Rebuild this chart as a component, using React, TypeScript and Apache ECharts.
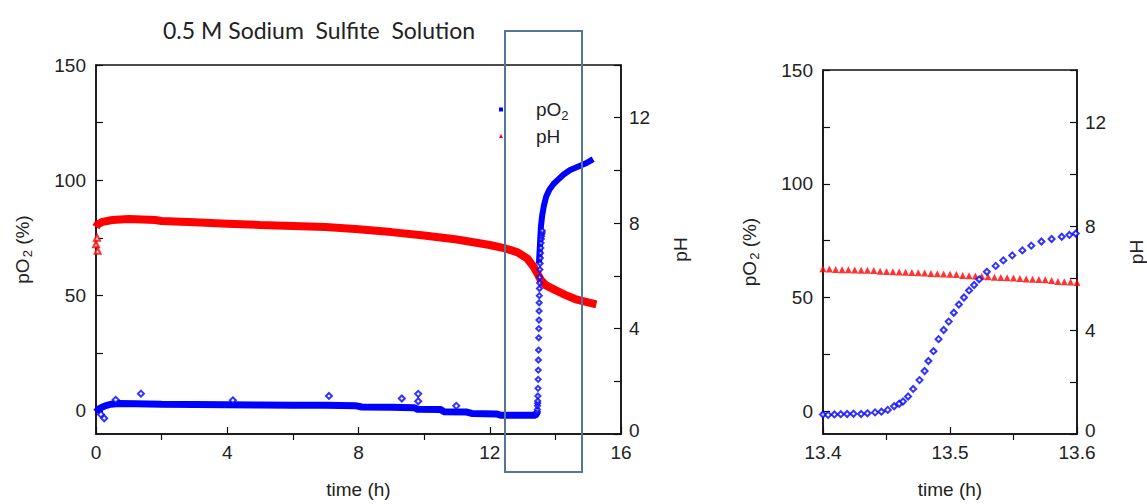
import React, { useEffect, useRef } from "react";
import * as echarts from "echarts";

// ---------- data ----------
const titleText = "0.5 M Sodium  Sulfite  Solution";

const leftTimeTicks = [0, 4, 8, 12, 16];
const leftTimeMinor = [2, 6, 10, 14];
const zoomTimeTicks = [13.4, 13.5, 13.6];
const zoomTimeMinor = [13.45, 13.55];
const po2Labels = [0, 50, 100, 150];
const po2Ticks = [0, 25, 50, 75, 100, 125, 150];
const phLabels = [0, 4, 8, 12];
const phTicks = [0, 2, 4, 6, 8, 10, 12, 14];

// pO2 (%) vs time (h), whole run — baseline before the jump
const po2Baseline: [number, number][] = [
  [0.0, -0.5], [0.08, 0.8], [0.18, 1.6], [0.3, 2.3], [0.45, 2.9], [0.7, 3.2],
  [1.2, 3.1], [2.0, 2.9], [3.0, 2.8], [4.0, 2.7], [5.0, 2.6], [6.0, 2.5],
  [7.0, 2.5], [7.9, 2.3], [8.1, 1.7], [9.0, 1.6], [9.7, 1.4], [9.8, 0.7],
  [10.5, 0.6], [10.6, -0.3], [11.3, -0.5], [11.45, -1.1], [12.2, -1.3],
  [12.35, -1.9], [13.38, -1.9], [13.44, -1.0],
];
// scattered single readings
const po2Outliers: [number, number][] = [
  [0.15, -1.5], [0.25, -3.2], [0.6, 4.8], [1.37, 7.5], [4.17, 4.6],
  [7.1, 6.5], [9.32, 5.4], [9.82, 7.4], [9.82, 4.2], [10.98, 2.2],
];
// the jump, 13.4 – 13.6 h
const po2Rise: [number, number][] = [
  [13.4, -1.4], [13.404, -1.6], [13.409, -1.4], [13.414, -1.3], [13.419, -1.2],
  [13.424, -1.1], [13.43, -1.2], [13.435, -0.9], [13.441, -0.5], [13.446, -0.2],
  [13.451, 0.6], [13.456, 2.2], [13.46, 3.3], [13.463, 4.3], [13.467, 6.5],
  [13.471, 9.8], [13.476, 13.7], [13.48, 17.7], [13.483, 22.1], [13.487, 26.4],
  [13.491, 31.7], [13.495, 35.7], [13.499, 39.4], [13.503, 43.3], [13.507, 46.9],
  [13.511, 50.0], [13.515, 53.1], [13.519, 55.5], [13.523, 58.0], [13.529, 61.3],
  [13.536, 63.9], [13.542, 66.3], [13.549, 68.5], [13.557, 70.7], [13.564, 72.8],
  [13.572, 74.6], [13.58, 75.7], [13.588, 76.7], [13.594, 77.5], [13.599, 78.1],
];
// after the jump (whole-run view)
const po2Recovery: [number, number][] = [
  [13.5, 64], [13.53, 72], [13.56, 80], [13.6, 85], [13.65, 89], [13.72, 93],
  [13.82, 96], [13.95, 98.5], [14.1, 100.5], [14.25, 102.5], [14.45, 104.5],
  [14.7, 106], [14.95, 107.5], [15.15, 109.2],
];

// pH vs time (h), whole run
const phMain: [number, number][] = [
  [0.0, 7.85], [0.05, 7.95], [0.2, 8.05], [0.5, 8.12], [1.0, 8.16], [1.8, 8.12],
  [2.0, 8.08], [3.0, 8.03], [4.0, 7.98], [5.0, 7.93], [6.0, 7.89], [7.0, 7.85],
  [8.0, 7.77], [9.0, 7.66], [10.0, 7.53], [11.0, 7.38], [12.0, 7.17], [12.5, 7.03],
  [12.85, 6.89], [13.15, 6.65], [13.35, 6.32], [13.45, 6.1], [13.55, 5.85],
  [13.7, 5.65], [14.0, 5.46], [14.3, 5.28], [14.6, 5.12], [14.9, 5.02], [15.25, 4.92],
];
const phOutliers: [number, number][] = [[0.0, 7.2], [0.03, 7.45], [0.05, 6.95]];
// pH, 13.4 – 13.6 h
const phZoom: [number, number][] = [
  [13.4, 6.36], [13.405, 6.35], [13.41, 6.33], [13.415, 6.32], [13.42, 6.32],
  [13.425, 6.31], [13.43, 6.3], [13.435, 6.3], [13.44, 6.29], [13.445, 6.26],
  [13.45, 6.25], [13.455, 6.24], [13.46, 6.23], [13.465, 6.22], [13.47, 6.21],
  [13.475, 6.2], [13.48, 6.19], [13.485, 6.17], [13.49, 6.16], [13.495, 6.15],
  [13.5, 6.14], [13.505, 6.13], [13.51, 6.1], [13.515, 6.09], [13.52, 6.08],
  [13.525, 6.07], [13.53, 6.05], [13.535, 6.03], [13.54, 6.02], [13.545, 6.01],
  [13.55, 6.0], [13.555, 5.98], [13.56, 5.96], [13.565, 5.95], [13.57, 5.94],
  [13.575, 5.93], [13.58, 5.9], [13.585, 5.87], [13.59, 5.86], [13.595, 5.85],
  [13.6, 5.83],
];

// ---------- styling ----------
const BLUE = "#0000ff";
const RED = "#ff0000";
const INK = "#222222";
const FRAME = "#111111";
const FONT = "'Liberation Sans', Arial, sans-serif";
const FS = 19;

const nameRich = {
  a: { fontSize: FS, fontFamily: FONT, color: INK, lineHeight: 24, verticalAlign: "middle" },
  s: { fontSize: 13, fontFamily: FONT, color: INK, lineHeight: 24, verticalAlign: "bottom", padding: [0, 0, 0, 1] },
};
const po2Name = "{a|pO}{s|2}{a| (%)}";

function mainX(grid: number, min: number, max: number, labels: number[], fmt?: (v: number) => string) {
  return {
    gridIndex: grid, type: "value", min, max, position: "bottom",
    axisLine: { show: true, onZero: false, lineStyle: { color: FRAME, width: 1.5 } },
    axisTick: { show: true, inside: true, length: 7, customValues: labels, lineStyle: { color: FRAME, width: 1.2 } },
    axisLabel: { customValues: labels, fontSize: FS, fontFamily: FONT, color: INK, margin: 10, lineHeight: 16, formatter: fmt },
    splitLine: { show: false },
    name: "time (h)", nameLocation: "middle", nameGap: 46,
    nameTextStyle: { fontSize: FS, fontFamily: FONT, color: INK },
  };
}
function minorX(grid: number, min: number, max: number, ticks: number[]) {
  return {
    gridIndex: grid, type: "value", min, max, position: "bottom",
    axisLine: { show: false, onZero: false },
    axisTick: { show: true, inside: false, length: 6, customValues: ticks, lineStyle: { color: FRAME, width: 1.2 } },
    axisLabel: { show: false },
    splitLine: { show: false },
  };
}
function po2Y(grid: number) {
  return {
    gridIndex: grid, type: "value", min: -10, max: 150, position: "left",
    axisLine: { show: true, onZero: false, lineStyle: { color: FRAME, width: 1.5 } },
    axisTick: { show: true, inside: true, length: 7, customValues: po2Ticks, lineStyle: { color: FRAME, width: 1.2 } },
    axisLabel: { customValues: po2Labels, fontSize: FS, fontFamily: FONT, color: INK, margin: 10, lineHeight: 14 },
    splitLine: { show: false },
    name: po2Name, nameLocation: "middle", nameGap: 62, nameRotate: 90,
    nameTextStyle: { rich: nameRich },
  };
}
function phY(grid: number) {
  return {
    gridIndex: grid, type: "value", min: 0, max: 14, position: "right",
    axisLine: { show: true, onZero: false, lineStyle: { color: FRAME, width: 1.5 } },
    axisTick: { show: true, inside: true, length: 7, customValues: phTicks, lineStyle: { color: FRAME, width: 1.2 } },
    axisLabel: {
      customValues: phLabels, fontSize: FS, fontFamily: FONT, color: INK, margin: 8, lineHeight: 14,
      // the bottom "0" sits just above the time labels
      formatter: (v: number) => (v === 0 ? "{z|0}" : String(v)),
      rich: { z: { fontSize: FS, fontFamily: FONT, color: INK, lineHeight: 14, padding: [0, 0, 8, 0] } },
    },
    splitLine: { show: false },
    name: "pH", nameLocation: "middle", nameGap: 50, nameRotate: 90,
    nameTextStyle: { fontSize: FS, fontFamily: FONT, color: INK },
  };
}

export default function App() {
  const ref = useRef<HTMLDivElement>(null);
  useEffect(() => {
    if (!ref.current) return;
    const chart = echarts.init(ref.current, undefined, { renderer: "svg" });
    const option: any = {
      animation: false,
      backgroundColor: "#ffffff",
      title: {
        text: titleText, left: 158, top: 13,
        textStyle: { fontFamily: "Lato, 'Open Sans', sans-serif", fontSize: 23, fontWeight: "normal", color: INK },
      },
      legend: {
        orient: "vertical", left: 494, top: 95, itemWidth: 4, itemHeight: 4, itemGap: 5,
        selectedMode: false,
        data: [{ name: "pO2", icon: "rect" }, { name: "pH", icon: "triangle" }],
        formatter: (n: string) => (n === "pO2" ? "{g|}{a|pO}{s|2}" : "{g|}{a|pH}"),
        textStyle: {
          rich: {
            g: { width: 28 },
            a: { fontSize: FS, fontFamily: FONT, color: INK, lineHeight: 24, verticalAlign: "middle" },
            s: { fontSize: 13, fontFamily: FONT, color: INK, lineHeight: 24, verticalAlign: "bottom" },
          },
        },
      },
      grid: [
        { left: 96, top: 65, width: 525, height: 372, show: true, borderColor: FRAME, borderWidth: 1.5, backgroundColor: "transparent" },
        { left: 823, top: 70, width: 254, height: 367, show: true, borderColor: FRAME, borderWidth: 1.5, backgroundColor: "transparent" },
      ],
      xAxis: [
        mainX(0, 0, 16, leftTimeTicks),
        minorX(0, 0, 16, leftTimeMinor),
        mainX(1, 13.4, 13.6, zoomTimeTicks, (v: number) => v.toFixed(1)),
        minorX(1, 13.4, 13.6, zoomTimeMinor),
      ],
      yAxis: [po2Y(0), phY(0), po2Y(1), phY(1)],
      graphic: [
        {
          type: "rect", z: 100, silent: true,
          shape: { x: 505, y: 31, width: 77, height: 441 },
          style: { fill: "none", stroke: "#56759a", lineWidth: 2 },
        },
      ],
      series: [
        {
          name: "pO2", type: "line", xAxisIndex: 0, yAxisIndex: 0, data: po2Baseline,
          showSymbol: false, lineStyle: { color: BLUE, width: 7 }, itemStyle: { color: BLUE }, z: 3,
        },
        {
          name: "pO2", type: "scatter", xAxisIndex: 0, yAxisIndex: 0, data: po2Outliers,
          symbol: "emptyDiamond", symbolSize: 6, itemStyle: { color: BLUE, borderWidth: 1.5 }, z: 3,
        },
        {
          name: "pO2", type: "scatter", xAxisIndex: 0, yAxisIndex: 0, data: po2Rise,
          symbol: "emptyDiamond", symbolSize: 5, itemStyle: { color: BLUE, borderWidth: 1.5 }, z: 3,
        },
        {
          name: "pO2", type: "line", xAxisIndex: 0, yAxisIndex: 0, data: po2Recovery,
          showSymbol: false, lineStyle: { color: BLUE, width: 6 }, itemStyle: { color: BLUE }, z: 3,
        },
        {
          name: "pH", type: "line", xAxisIndex: 0, yAxisIndex: 1, data: phMain,
          showSymbol: false, lineStyle: { color: RED, width: 8 }, itemStyle: { color: RED }, z: 2,
        },
        {
          name: "pH", type: "scatter", xAxisIndex: 0, yAxisIndex: 1, data: phOutliers,
          symbol: "emptyTriangle", symbolSize: 6, itemStyle: { color: RED, borderWidth: 1.5 }, z: 2,
        },
        {
          name: "pO2", type: "scatter", xAxisIndex: 2, yAxisIndex: 2, data: po2Rise,
          symbol: "emptyDiamond", symbolSize: 6, itemStyle: { color: BLUE, borderWidth: 1.5 }, z: 3,
        },
        {
          name: "pH", type: "scatter", xAxisIndex: 2, yAxisIndex: 3, data: phZoom,
          symbol: "triangle", symbolSize: 7, itemStyle: { color: RED }, z: 2,
        },
      ],
    };
    chart.setOption(option);
    return () => chart.dispose();
  }, []);
  return (
    <div
      ref={ref}
      style={{ position: "absolute", left: 0, top: 0, width: 1147, height: 504, background: "#fff" }}
    />
  );
}
